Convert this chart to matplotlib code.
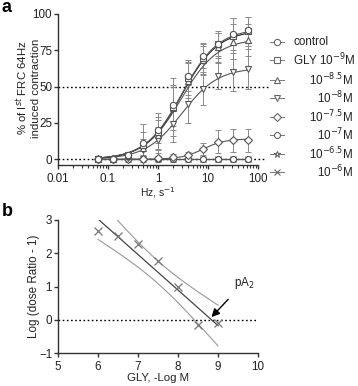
import numpy as np
import matplotlib
matplotlib.use("Agg")
import matplotlib.pyplot as plt

plt.rcParams['font.family'] = ['Liberation Sans', 'DejaVu Sans']

# ---------------- data: panel a ----------------
freq_hz = [0.0625, 0.125, 0.25, 0.5, 1, 2, 4, 8, 16, 32, 64]
series_labels = ["control", "GLY 10$^{-9}$M", "10$^{-8.5}$M", "10$^{-8}$M",
                 "10$^{-7.5}$M", "10$^{-7}$M", "10$^{-6.5}$M", "10$^{-6}$M"]
series_markers = ['o', 's', '^', 'v', 'D', '8', '*', 'x']

control_mean = [0, 0, 3, 11, 20, 37, 57, 71, 79, 86, 89]
control_err = [0.5, 0.5, 1, 8, 9, 14, 10, 8, 8, 11, 9]
gly9_mean = [0, 0, 3, 10, 19, 36, 56, 70, 79, 85, 88]
gly9_err = [0.5, 0.5, 1, 14, 13, 20, 12, 10, 9, 12, 10]
gly85_mean = [0, 0, 2, 8, 17, 35, 54, 68, 77, 81, 82]
gly85_err = [0.5, 0.5, 1, 6, 10, 15, 12, 10, 10, 12, 11]
gly8_mean = [0, 0, 1, 6, 13, 24, 38, 48, 57, 60, 62]
gly8_err = [0.5, 0.5, 1, 4, 9, 12, 13, 11, 9, 13, 14]
gly75_mean = [0, 0, 0, 0, 0.5, 1.5, 3, 7, 12, 13, 13]
gly75_err = [0.3, 0.3, 0.3, 0.5, 1, 2, 2, 4, 8, 8, 8]
gly7_mean = [0, 0, 0, 0, 0, 0, 0, 0, 0, 0, 0]
gly7_err = [0.3, 0.3, 0.3, 0.5, 1, 1, 1, 1, 1.5, 1.5, 1.5]
gly65_mean = [0, 0, 0, 0, 0, 0, 0, 0, 0, 0, 0]
gly65_err = [0.3, 0.3, 0.3, 0.5, 0.5, 0.5, 0.5, 0.5, 1, 1, 1]
gly6_mean = [0, 0, 0, 0, 0, 0, 0, 0, 0, 0, 0]
gly6_err = [0.3, 0.3, 0.3, 0.3, 0.3, 0.3, 0.3, 0.5, 0.5, 0.5, 0.5]

# sigmoid fit parameters (top, EC50 [Hz], Hill slope) per series
fit_top = [90, 89, 83, 63, 14, 0, 0, 0]
fit_ec50 = [3.0, 3.0, 2.9, 3.0, 8.0, 8.0, 8.0, 8.0]
fit_hill = [1.2, 1.2, 1.2, 1.2, 2.0, 1.0, 1.0, 1.0]

# ---------------- data: panel b ----------------
gly_neglogM = [6, 6.5, 7, 7.5, 8, 8.5, 9]
log_dr_minus1 = [2.68, 2.52, 2.27, 1.77, 1.0, -0.15, -0.10]

means = [control_mean, gly9_mean, gly85_mean, gly8_mean, gly75_mean, gly7_mean, gly65_mean, gly6_mean]
errs = [control_err, gly9_err, gly85_err, gly8_err, gly75_err, gly7_err, gly65_err, gly6_err]

W, H = 358, 386
fig = plt.figure(figsize=(W / 100, H / 100), dpi=100)

def fx(px):
    return px / W

def fy(py):
    return 1 - py / H

err_col = '#8a8a8a'
FS = 8.4
TXT = '#222222'

def style_axes(ax):
    ax.spines['top'].set_visible(False)
    ax.spines['right'].set_visible(False)
    for s in ['left', 'bottom']:
        ax.spines[s].set_color('#333333')
        ax.spines[s].set_linewidth(1.0)
    ax.tick_params(axis='both', which='major', direction='out', length=3.2, width=1,
                   labelsize=FS, colors='#333333', labelcolor=TXT)
    ax.tick_params(axis='y', which='major', pad=1.0)
    ax.tick_params(axis='x', which='major', pad=2.5)

# ---------------- panel a ----------------
axa = fig.add_axes([fx(58), fy(165), fx(258) - fx(58), fy(14) - fy(165)])
axa.set_xscale('log')
axa.set_xlim(0.01, 100)
axa.set_ylim(-4, 100)

xs = np.array(freq_hz)
xfine = np.logspace(np.log10(xs[0]), np.log10(xs[-1]), 200)
order = [7, 6, 5, 4, 3, 2, 1, 0]
for i in order:
    m = np.array(means[i])
    e = np.array(errs[i])
    axa.errorbar(xs, m, yerr=e, fmt='none', ecolor=err_col, elinewidth=0.7,
                 capsize=2.5, capthick=0.7, zorder=2)
    top, ec, h = fit_top[i], fit_ec50[i], fit_hill[i]
    yfit = top / (1 + (ec / xfine) ** h)
    axa.plot(xfine, yfit, color='#555555' if i != 1 else '#222222', lw=0.8, zorder=3)
    mk = series_markers[i]
    if mk == 'x':
        axa.plot(xs, m, linestyle='none', marker=mk, ms=4, mec='#666666', mew=0.8, zorder=4)
    else:
        axa.plot(xs, m, linestyle='none', marker=mk, ms=4.5 if mk != 'D' else 4,
                 mfc='white', mec='#555555', mew=0.8, zorder=4)

axa.axhline(50, color='black', lw=1.0, ls=(0, (1.2, 1.8)), zorder=1, xmax=1.05, clip_on=False)
axa.axhline(0, color='black', lw=1.0, ls=(0, (1.2, 1.8)), zorder=1, xmax=1.04, clip_on=False)

axa.set_yticks([0, 25, 50, 75, 100])
axa.set_xticks([0.01, 0.1, 1, 10, 100])
axa.set_xticklabels(['0.01', '0.1', '1', '10', '100'])
style_axes(axa)
axa.tick_params(axis='x', which='minor', direction='out', length=1.8, width=0.8, colors='#333333')

fig.text(fx(158), fy(193), 'Hz, s$^{-1}$', fontsize=7.5, color=TXT, ha='center', va='center')
fig.text(fx(27.5), fy(88), '% of I$^{st}$ FRC 64Hz\ninduced contraction', fontsize=8.2,
         rotation=90, ha='center', va='center', linespacing=1.1, color=TXT)

# ---------------- legend (manual) ----------------
axl = fig.add_axes([0, 0, 1, 1], facecolor='none')
axl.set_xlim(0, W)
axl.set_ylim(H, 0)
axl.axis('off')
leg_y = [42, 60, 80, 98, 117, 135, 154, 172]
for i, yy in enumerate(leg_y):
    axl.plot([270, 284], [yy, yy], color='#777777', lw=0.7)
    mk = series_markers[i]
    if mk == 'x':
        axl.plot([277], [yy], marker='x', ms=4.5, mec='#666666', mew=0.8, ls='none')
    else:
        axl.plot([277], [yy], marker=mk, ms=4.5 if mk != 'D' else 4,
                 mfc='white', mec='#666666', mew=0.8, ls='none')
    if i < 2:
        axl.text(293, yy, series_labels[i], ha='left', va='center', fontsize=FS, color=TXT)
    else:
        axl.text(353, yy, series_labels[i], ha='right', va='center', fontsize=FS, color=TXT)

# ---------------- panel b ----------------
axb = fig.add_axes([fx(58), fy(353), fx(258) - fx(58), fy(220) - fy(353)])
axb.set_xlim(5, 10)
axb.set_ylim(-1, 3)

xb = np.array(gly_neglogM)
yb = np.array(log_dr_minus1)
slope, intercept = np.polyfit(xb, yb, 1)
n = len(xb)
resid = yb - (slope * xb + intercept)
s_res = np.sqrt(np.sum(resid ** 2) / (n - 2))
t_crit = 2.5706  # t(0.975, df=5)
xl = np.linspace(xb.min(), xb.max(), 100)
yl = slope * xl + intercept
se = s_res * np.sqrt(1 / n + (xl - xb.mean()) ** 2 / np.sum((xb - xb.mean()) ** 2))
axb.plot(xl, yl, color='#444444', lw=0.9, zorder=3)
axb.plot(xl, yl + t_crit * se, color='#999999', lw=0.8, zorder=2)
axb.plot(xl, yl - t_crit * se, color='#999999', lw=0.8, zorder=2)
axb.plot(xb, yb, ls='none', marker='x', ms=5.5, mec='#777777', mew=0.9, zorder=4)
axb.axhline(0, color='black', lw=1.0, ls=(0, (1.2, 1.8)), zorder=1)

pa2 = -intercept / slope
axb.annotate('pA$_2$', xy=(pa2, 0.08), xytext=(9.65, 1.12), ha='center', va='center',
             fontsize=FS, color=TXT,
             arrowprops=dict(arrowstyle='-|>', color='black', lw=1.0, mutation_scale=12,
                             shrinkA=6, shrinkB=0))

axb.set_xticks([5, 6, 7, 8, 9, 10])
axb.set_yticks([-1, 0, 1, 2, 3])
style_axes(axb)

fig.text(fx(158), fy(378), 'GLY, -Log M', fontsize=8.2, color=TXT, ha='center', va='center')
fig.text(fx(34), fy(286), 'Log (dose Ratio - 1)', fontsize=FS, color=TXT, rotation=90,
         ha='center', va='center')

fig.text(fx(2), fy(8), 'a', fontsize=13, fontweight='bold', va='center', ha='left')
fig.text(fx(2), fy(211), 'b', fontsize=13, fontweight='bold', va='center', ha='left')

fig.savefig('out.png', dpi=100)
